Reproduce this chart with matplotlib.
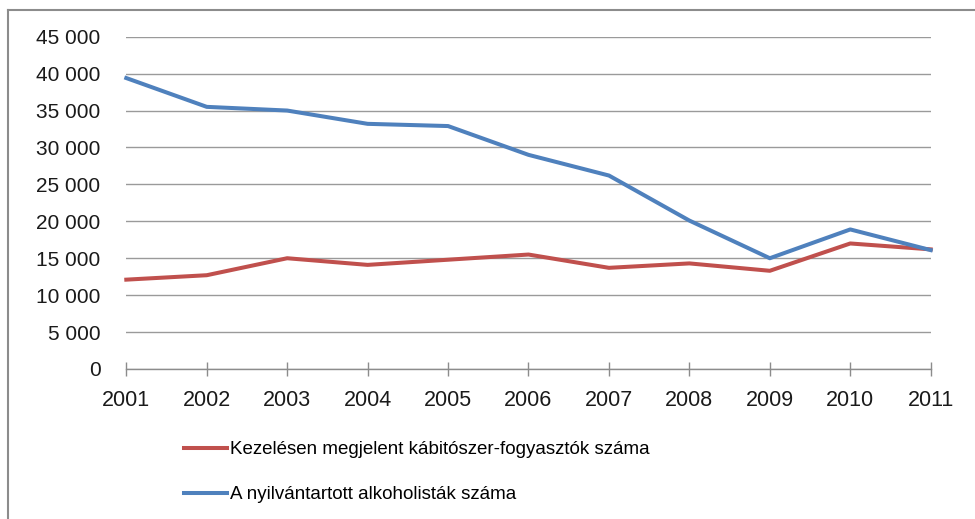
import matplotlib
matplotlib.use("Agg")
import matplotlib.pyplot as plt
from matplotlib.ticker import FuncFormatter

plt.rcParams['font.family'] = ['Liberation Sans', 'DejaVu Sans']

years = [2001, 2002, 2003, 2004, 2005, 2006, 2007, 2008, 2009, 2010, 2011]
# Kezelésen megjelent kábítószer-fogyasztók
drug_users = [12100, 12700, 15000, 14100, 14800, 15500, 13700, 14300, 13300, 17000, 16200]
# nyilvántartott alkoholisták
alcoholics = [39400, 35500, 35000, 33200, 32900, 29000, 26200, 20100, 15000, 18900, 16100]

labels = ['Kezelésen megjelent kábitószer-fogyasztók száma',
          'A nyilvántartott alkoholisták száma']

fig = plt.figure(figsize=(9.75, 5.19), dpi=100)
ax = fig.add_axes([126.3 / 975, 1 - 369 / 519, (930.7 - 126.3) / 975, (369 - 36.7) / 519])

ax.plot(years, drug_users, color='#C0504D', lw=2.9, label=labels[0], clip_on=False,
        solid_joinstyle='round')
ax.plot(years, alcoholics, color='#4F81BD', lw=2.9, label=labels[1], clip_on=False,
        solid_joinstyle='round')

ax.set_xlim(2001, 2011)
ax.set_ylim(0, 45000)
ax.set_xticks(years)
ax.set_yticks(range(0, 45001, 5000))
ax.yaxis.set_major_formatter(FuncFormatter(lambda v, p: f"{int(v):,}".replace(',', ' ')))

ax.grid(axis='y', color='#9a9a9a', lw=1.0)
ax.set_axisbelow(True)
for s in ['top', 'right', 'left']:
    ax.spines[s].set_visible(False)
ax.spines['bottom'].set_color('#8c8c8c')
ax.spines['bottom'].set_linewidth(1.0)

ax.tick_params(axis='y', length=0, pad=18.5, labelsize=15, labelcolor='#1a1a1a')
ax.tick_params(axis='x', direction='inout', length=10, width=1.0, color='#8c8c8c',
               pad=10, labelsize=15.5, labelcolor='#1a1a1a')

# chart frame (top and left edges visible)
fig.add_artist(plt.Line2D([8 / 975, 1], [1 - 10 / 519, 1 - 10 / 519], color='#8c8c8c', lw=1.5))
fig.add_artist(plt.Line2D([8 / 975, 8 / 975], [0, 1 - 10 / 519], color='#8c8c8c', lw=1.5))

fig.legend(loc='upper left', bbox_to_anchor=(184 / 975, 1 - 441 / 519), frameon=False,
           fontsize=13.5, handlelength=2.3, handletextpad=0.15, labelspacing=1.5,
           borderaxespad=0, borderpad=0)

fig.savefig('out.png', dpi=100)
